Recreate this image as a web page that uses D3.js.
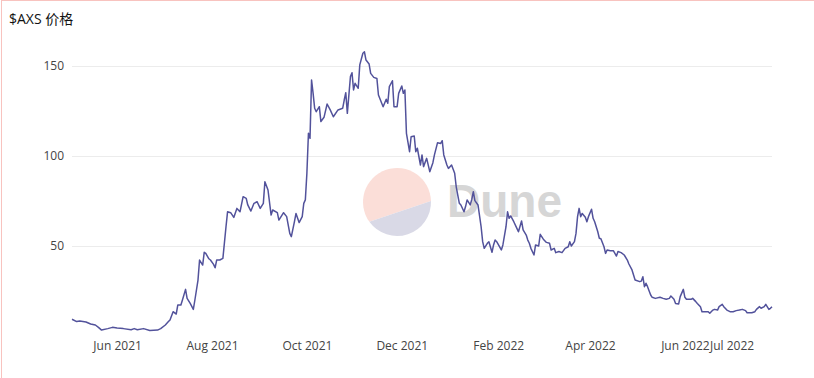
<!DOCTYPE html>
<html>
<head>
<meta charset="utf-8">
<script src="https://cdn.jsdelivr.net/npm/d3@7"></script>
<style>
  html, body { margin: 0; padding: 0; background: #fff; }
  #chart { width: 814px; height: 378px; }
  text { font-family: "Open Sans", "Noto Sans CJK SC", sans-serif; }
</style>
</head>
<body>
<div id="chart"></div>
<script>
// daily close of AXS (roughly every 1-3 days)
const dates = [
  "2021-05-03","2021-05-06","2021-05-08","2021-05-12","2021-05-15","2021-05-18","2021-05-20","2021-05-22","2021-05-26","2021-05-29",
  "2021-06-01","2021-06-05","2021-06-10","2021-06-12","2021-06-14","2021-06-18","2021-06-22","2021-06-27","2021-06-29",
  "2021-07-02","2021-07-04","2021-07-05","2021-07-07","2021-07-09","2021-07-10","2021-07-12","2021-07-13","2021-07-15","2021-07-16",
  "2021-07-18","2021-07-20","2021-07-21","2021-07-23","2021-07-24","2021-07-26","2021-07-27","2021-07-28","2021-07-30","2021-07-31",
  "2021-08-02","2021-08-03","2021-08-04","2021-08-06","2021-08-08","2021-08-10","2021-08-11","2021-08-13","2021-08-15","2021-08-17",
  "2021-08-19","2021-08-21","2021-08-23","2021-08-24","2021-08-26","2021-08-28","2021-08-30",
  "2021-09-01","2021-09-03","2021-09-04","2021-09-06","2021-09-08","2021-09-09","2021-09-12","2021-09-13","2021-09-16","2021-09-18",
  "2021-09-20","2021-09-21","2021-09-23","2021-09-24","2021-09-26","2021-09-28","2021-09-29","2021-09-30",
  "2021-10-01","2021-10-02","2021-10-03","2021-10-04","2021-10-05","2021-10-06","2021-10-07","2021-10-09","2021-10-10","2021-10-12",
  "2021-10-14","2021-10-16","2021-10-18","2021-10-21","2021-10-24","2021-10-25","2021-10-26","2021-10-27","2021-10-29","2021-10-30","2021-10-31",
  "2021-11-01","2021-11-03","2021-11-04","2021-11-06","2021-11-07","2021-11-08","2021-11-10","2021-11-11","2021-11-13","2021-11-15",
  "2021-11-16","2021-11-19","2021-11-21","2021-11-22","2021-11-23","2021-11-25","2021-11-26","2021-11-28","2021-11-29",
  "2021-12-01","2021-12-02","2021-12-03","2021-12-04","2021-12-06","2021-12-07","2021-12-09","2021-12-10","2021-12-11","2021-12-13",
  "2021-12-14","2021-12-15","2021-12-17","2021-12-19","2021-12-21","2021-12-22","2021-12-24","2021-12-26","2021-12-27","2021-12-28",
  "2021-12-30","2021-12-31",
  "2022-01-02","2022-01-04","2022-01-05","2022-01-07","2022-01-08","2022-01-10","2022-01-11","2022-01-12","2022-01-14","2022-01-15",
  "2022-01-16","2022-01-17","2022-01-19","2022-01-21","2022-01-22","2022-01-23","2022-01-25","2022-01-26","2022-01-28","2022-01-29",
  "2022-01-30","2022-01-31",
  "2022-02-03","2022-02-04","2022-02-06","2022-02-07","2022-02-08","2022-02-09","2022-02-11","2022-02-13","2022-02-14","2022-02-16",
  "2022-02-17","2022-02-19","2022-02-20","2022-02-21","2022-02-22","2022-02-24","2022-02-25","2022-02-27","2022-02-28",
  "2022-03-02","2022-03-04","2022-03-06","2022-03-07","2022-03-09","2022-03-10","2022-03-12","2022-03-14","2022-03-16","2022-03-18",
  "2022-03-19","2022-03-20","2022-03-22","2022-03-23","2022-03-24","2022-03-25","2022-03-26","2022-03-27","2022-03-29","2022-03-30","2022-03-31",
  "2022-04-02","2022-04-03","2022-04-04","2022-04-06","2022-04-07","2022-04-08","2022-04-10","2022-04-11","2022-04-12","2022-04-14",
  "2022-04-16","2022-04-18","2022-04-19","2022-04-21","2022-04-23","2022-04-25","2022-04-26","2022-04-28","2022-04-29","2022-04-30",
  "2022-05-03","2022-05-04","2022-05-05","2022-05-06","2022-05-07","2022-05-08","2022-05-10","2022-05-11","2022-05-13","2022-05-16",
  "2022-05-18","2022-05-20","2022-05-22","2022-05-23","2022-05-25","2022-05-26","2022-05-28","2022-05-29","2022-05-31",
  "2022-06-01","2022-06-02","2022-06-05","2022-06-06","2022-06-08","2022-06-09","2022-06-11","2022-06-12","2022-06-14","2022-06-16",
  "2022-06-17","2022-06-19","2022-06-20","2022-06-22","2022-06-23","2022-06-25","2022-06-26","2022-06-28","2022-06-30",
  "2022-07-02","2022-07-04","2022-07-06","2022-07-08","2022-07-10","2022-07-11","2022-07-14","2022-07-16","2022-07-17","2022-07-19",
  "2022-07-20","2022-07-22","2022-07-23","2022-07-25","2022-07-26","2022-07-27"
];

const prices = [
  9.3, 8.0, 8.3, 7.8, 6.7, 6.1, 4.8, 3.3, 4.1, 4.8,
  4.4, 4.1, 3.5, 4.1, 3.5, 4.1, 3.1, 3.3, 4.1,
  6.1, 8.0, 8.9, 13.5, 12.2, 17.2, 17.2, 20.0, 25.9, 20.9,
  18.1, 14.8, 20.0, 31.1, 42.2, 39.4, 46.5, 45.9, 42.9, 42.2,
  39.8, 37.9, 42.2, 42.2, 43.1, 60.7, 69.0, 68.5, 65.9, 70.9,
  69.0, 77.4, 76.5, 72.8, 69.4, 73.7, 74.6,
  70.9, 73.7, 85.7, 81.1, 67.2, 70.0, 68.5, 64.4, 68.5, 66.3,
  57.0, 55.2, 63.5, 68.1, 63.0, 66.3, 73.7, 75.6,
  90.4, 112.6, 109.8, 142.2, 134.8, 126.5, 124.6, 127.4, 119.1, 121.5,
  128.9, 125.6, 121.8, 125.6, 126.5, 131.1, 135.2, 123.7, 144.1, 146.3, 136.7,
  140.4, 137.6, 150.6, 157.1, 157.9, 153.3, 151.1, 145.9, 143.7, 143.1,
  133.9, 127.4, 131.5, 129.3, 138.5, 141.8, 127.4, 127.4, 134.8,
  138.9, 134.8, 136.7, 112.6, 102.4, 110.7, 111.1, 102.4, 104.3, 95.0,
  100.6, 94.1, 98.7, 91.3, 96.3, 100.6, 107.4, 107.0, 108.5, 100.6,
  95.0, 93.1,
  95.0, 90.4, 82.9, 73.7, 72.8, 69.0, 71.9, 75.6, 72.8, 75.9,
  80.2, 75.2, 72.8, 60.7, 52.4, 48.7, 51.5, 52.4, 46.5, 50.6,
  53.3, 52.4,
  47.8, 50.6, 60.7, 69.0, 65.4, 66.7, 63.5, 59.8, 57.9, 63.9,
  58.9, 56.1, 53.3, 51.5, 48.7, 45.0, 50.6, 50.0, 56.5,
  53.8, 52.0, 51.5, 47.8, 48.7, 46.3, 46.9, 46.3, 48.7, 49.6,
  52.4, 50.0, 52.4, 57.0, 66.3, 70.9, 66.3, 68.1, 66.0, 63.5, 66.3,
  70.4, 65.4, 63.5, 57.9, 54.3, 54.0, 49.6, 45.9, 47.8, 47.4,
  47.4, 44.4, 46.9, 46.3, 45.0, 42.2, 40.0, 36.7, 33.9, 31.1,
  30.2, 30.5, 32.9, 27.4, 29.3, 27.4, 22.8, 21.5, 20.9, 21.5,
  20.9, 20.4, 20.9, 22.2, 20.4, 18.1, 17.8, 21.9, 25.9,
  21.5, 20.4, 20.4, 20.9, 19.1, 18.1, 16.3, 13.5, 13.5, 13.5,
  12.6, 14.4, 14.8, 14.4, 16.3, 17.6, 16.3, 14.4, 13.5,
  13.5, 14.1, 14.4, 14.8, 14.1, 12.9, 12.9, 13.5, 14.8, 16.3,
  15.4, 16.3, 17.6, 14.8, 15.4, 16.3
];

const tickDates = ["2021-06-01","2021-08-01","2021-10-01","2021-12-01","2022-02-01","2022-04-01","2022-06-01","2022-07-01"];
const yTicks = [50, 100, 150];
const title = "$AXS 价格";

const width = 814, height = 378;
const margin = { top: 66, right: 42, bottom: 42, left: 72 };

const parse = d3.timeParse("%Y-%m-%d");
const data = dates.map((d, i) => ({ date: parse(d), value: prices[i] }));

const svg = d3.select("#chart").append("svg")
  .attr("width", width)
  .attr("height", height);

// card border (top + left visible)
svg.append("rect")
  .attr("x", 1.5).attr("y", 0.5)
  .attr("width", width + 20).attr("height", height + 20)
  .attr("fill", "none")
  .attr("stroke", "#f8c3bf")
  .attr("stroke-width", 1);

svg.append("text")
  .attr("x", 9)
  .attr("y", 24)
  .style("font-size", "14px")
  .style("fill", "#111")
  .text(title);

const x = d3.scaleTime()
  .domain(d3.extent(data, d => d.date))
  .range([margin.left, width - margin.right]);

const y = d3.scaleLinear()
  .domain([0, 150])
  .range([336, margin.top]);

// gridlines
svg.append("g")
  .selectAll("line")
  .data(yTicks)
  .join("line")
  .attr("x1", margin.left)
  .attr("x2", width - margin.right)
  .attr("y1", d => y(d) + 0.5)
  .attr("y2", d => y(d) + 0.5)
  .attr("stroke", "#ececec");

// y axis labels
const yAxis = svg.append("g")
  .attr("transform", `translate(${margin.left},0)`)
  .call(d3.axisLeft(y).tickValues(yTicks).tickSize(0).tickPadding(8));
yAxis.select(".domain").remove();
yAxis.selectAll("text")
  .style("font-size", "12px")
  .style("fill", "#444")
  .style("font-family", "'Open Sans', sans-serif");

// x axis labels
const xAxis = svg.append("g")
  .attr("transform", `translate(0,336)`)
  .call(d3.axisBottom(x).tickValues(tickDates.map(parse)).tickFormat(d3.timeFormat("%b %Y")).tickSize(0).tickPadding(5));
xAxis.select(".domain").remove();
xAxis.selectAll("text")
  .style("font-size", "12px")
  .style("fill", "#444")
  .style("font-family", "'Open Sans', sans-serif");

// Dune watermark
const wm = svg.append("g").attr("transform", "translate(397,202)");
const r = 34;
const a1 = -1.7 * Math.PI / 180, a2 = 144.3 * Math.PI / 180;
const p1 = [r * Math.cos(a1), r * Math.sin(a1)];
const p2 = [r * Math.cos(a2), r * Math.sin(a2)];
wm.append("path")
  .attr("d", `M${p2[0]},${p2[1]} A${r},${r} 0 1 1 ${p1[0]},${p1[1]} Z`)
  .attr("fill", "#fbded8");
wm.append("path")
  .attr("d", `M${p1[0]},${p1[1]} A${r},${r} 0 0 1 ${p2[0]},${p2[1]} Z`)
  .attr("fill", "#d9d9e6");
svg.append("text")
  .attr("x", 447)
  .attr("y", 217)
  .style("font-family", "'Liberation Sans', Arial, sans-serif")
  .style("font-weight", "bold")
  .style("font-size", "46px")
  .style("fill", "#d6d6d6")
  .text("Dune");

// price line
const line = d3.line()
  .x(d => x(d.date))
  .y(d => y(d.value));

svg.append("path")
  .datum(data)
  .attr("fill", "none")
  .attr("stroke", "#52529b")
  .attr("stroke-width", 1.5)
  .attr("stroke-linejoin", "round")
  .attr("d", line);
</script>
</body>
</html>
